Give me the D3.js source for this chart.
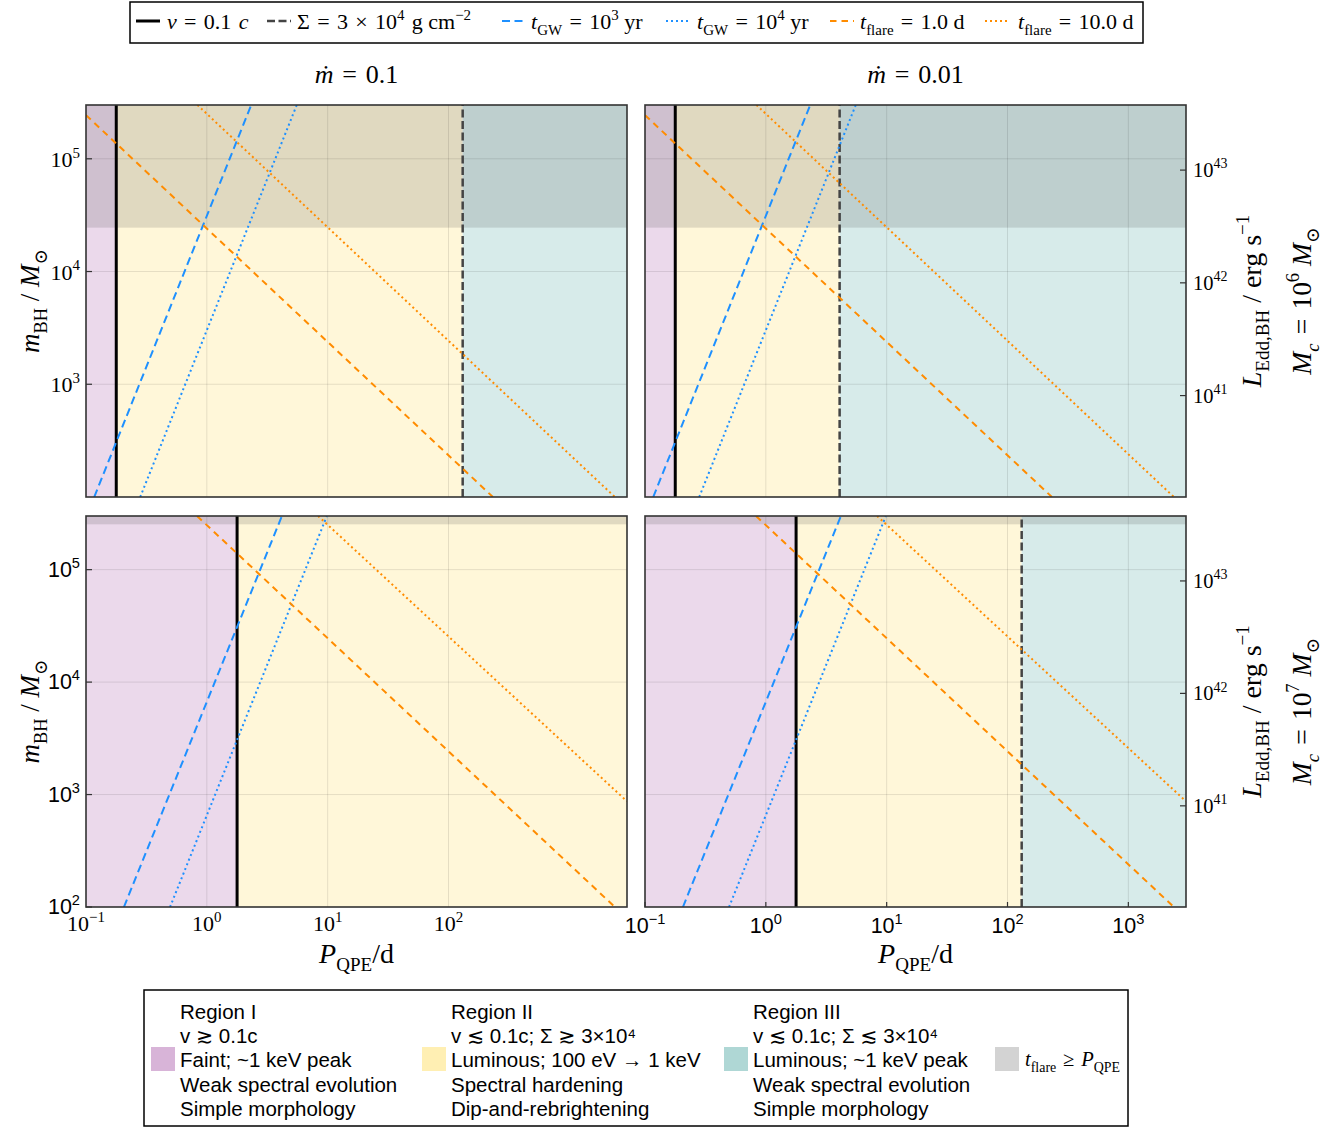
<!DOCTYPE html>
<html>
<head>
<meta charset="utf-8">
<script src="https://cdn.jsdelivr.net/npm/d3@7"></script>
<style>
  body { margin: 0; background: #fff; }
  svg { display: block; }
  text { white-space: pre; }
</style>
</head>
<body>
<svg id="fig" width="1343" height="1127"></svg>
<script>
// ---------------- data ----------------
const periodDomain = [0.1, 3000];          // P_QPE (days)
const massDomain = [100, 3e5];             // m_BH (solar masses)
const mdotLabels = ["0.1", "0.01"];        // columns
const mcExponents = ["6", "7"];            // rows: M_c = 10^n M_sun
// [row][col]
const pVelocity = [[0.178, 0.178], [1.78, 1.78]];   // v = 0.1 c boundary (d)
const pSigma = [[131, 4.08], [null, 131]];          // Sigma = 3e4 g cm^-2 boundary (d)
const mFlareLimit = [2.45e4, 2.53e5];               // t_flare >= P_QPE above this mass, per row
// power laws in log-log space, two [P, m] anchors each, per row
const tgw1e3 = [[[0.117, 100], [2.33, 3e5]], [[0.206, 100], [4.18, 3e5]]];
const tgw1e4 = [[[0.281, 100], [5.55, 3e5]], [[0.496, 100], [9.85, 3e5]]];
const tflare1 = [[[0.1, 2.44e5], [233, 100]], [[0.83, 3e5], [2382, 100]]];
const tflare10 = [[[0.836, 3e5], [2382, 100]], [[8.34, 3e5], [3000, 870]]];
const eddPerMsun = 1.26e38;                // L_Edd per solar mass (erg/s)
const massTicks = [1e2, 1e3, 1e4, 1e5];
const periodTicks = [0.1, 1, 10, 100, 1000];
const lumTicks = [1e41, 1e42, 1e43];
const gridPeriods = [[1, 10, 100], [1, 10, 100, 1000]];   // per column
const gridMasses = [1e3, 1e4, 1e5];

const legendRegions = [
  ["Region I", "v \u2273 0.1c", "Faint; ~1 keV peak", "Weak spectral evolution", "Simple morphology"],
  ["Region II", "v \u2272 0.1c; \u03a3 \u2273 3\u00d710\u2074", "Luminous; 100 eV \u2192 1 keV", "Spectral hardening", "Dip-and-rebrightening"],
  ["Region III", "v \u2272 0.1c; \u03a3 \u2272 3\u00d710\u2074", "Luminous; ~1 keV peak", "Weak spectral evolution", "Simple morphology"]
];

// ---------------- style ----------------
const colRegion = ["#ebd9eb", "#fff7d9", "#d7ebea"];
const colSwatch = ["#d8b4d8", "#ffefb3", "#afd7d5", "#d3d3d3"];
const colOverlay = "rgba(60,60,60,0.16)";
const SERIF = "'Liberation Serif', 'DejaVu Serif', serif";
const SANS = "'Liberation Sans', 'DejaVu Sans', sans-serif";
const blue = "#1e90ff", orange = "#ff8c00";
const EQ = "\u2004=\u2004";
const styles = {
  vel:   {stroke: "#000", w: 3, dash: null},
  sigma: {stroke: "#444", w: 2.5, dash: "8,3.5"},
  gw3:   {stroke: blue, w: 2, dash: "8,4.5"},
  gw4:   {stroke: blue, w: 2, dash: "2,3"},
  fl1:   {stroke: orange, w: 2, dash: "6.5,5"},
  fl10:  {stroke: orange, w: 2, dash: "2,3"}
};

const colX = [[86, 627], [645, 1186]];
const rowY = [[105, 497], [516, 907]];

const svg = d3.select("#fig");

// rich text with italic / sub / superscript runs
function rich(parent, x, y, parts, size, family, anchor) {
  const t = parent.append("text").attr("x", x).attr("y", y)
    .attr("font-family", family).attr("font-size", size)
    .attr("text-anchor", anchor || "start").attr("fill", "#000");
  let shift = 0;
  parts.forEach(p => {
    const target = p.sup ? -0.42 * size : p.sub ? 0.28 * size : 0;
    const s = t.append("tspan").text(p.t).attr("dy", target - shift);
    shift = target;
    if (p.sup || p.sub) s.attr("font-size", size * (p.scale || 0.68));
    if (p.it) s.attr("font-style", "italic");
    if (p.dx) s.attr("dx", p.dx);
  });
  return t;
}
const pow10 = (e) => [{t: "10"}, {t: e, sup: true}];
const expOf = (v) => String(Math.round(Math.log10(v))).replace("-", "\u2212");

// ---------------- panels ----------------
[0, 1].forEach(row => {
  [0, 1].forEach(col => {
    const [x0, x1] = colX[col], [y0, y1] = rowY[row];
    const x = d3.scaleLog().domain(periodDomain).range([x0, x1]);
    const y = d3.scaleLog().domain(massDomain).range([y1, y0]);
    const id = `clip-${row}-${col}`;
    svg.append("clipPath").attr("id", id).append("rect")
      .attr("x", x0).attr("y", y0).attr("width", x1 - x0).attr("height", y1 - y0);
    const g = svg.append("g").attr("clip-path", `url(#${id})`);

    const pv = pVelocity[row][col];
    const ps = pSigma[row][col] || periodDomain[1];
    const bounds = [periodDomain[0], pv, ps, periodDomain[1]];
    // regions I / II / III
    [0, 1, 2].forEach(k => {
      if (bounds[k + 1] <= bounds[k]) return;
      g.append("rect").attr("x", x(bounds[k])).attr("y", y0)
        .attr("width", x(bounds[k + 1]) - x(bounds[k])).attr("height", y1 - y0)
        .attr("fill", colRegion[k]);
    });
    // t_flare >= P_QPE
    g.append("rect").attr("x", x0).attr("y", y(massDomain[1]))
      .attr("width", x1 - x0).attr("height", y(mFlareLimit[row]) - y(massDomain[1]))
      .attr("fill", colOverlay);

    // grid
    g.selectAll(null).data(gridPeriods[col]).enter().append("line")
      .attr("x1", d => x(d)).attr("x2", d => x(d)).attr("y1", y0).attr("y2", y1)
      .attr("stroke", "rgba(0,0,0,0.1)").attr("stroke-width", 1);
    g.selectAll(null).data(gridMasses).enter().append("line")
      .attr("y1", d => y(d)).attr("y2", d => y(d)).attr("x1", x0).attr("x2", x1)
      .attr("stroke", "rgba(0,0,0,0.1)").attr("stroke-width", 1);

    const line = d3.line().x(d => x(d[0])).y(d => y(d[1]));
    const draw = (pts, st) => g.append("path").attr("d", line(pts))
      .attr("fill", "none").attr("stroke", st.stroke).attr("stroke-width", st.w)
      .attr("stroke-dasharray", st.dash);

    draw([[pv, massDomain[0]], [pv, massDomain[1]]], styles.vel);
    if (pSigma[row][col]) draw([[ps, massDomain[0]], [ps, massDomain[1]]], styles.sigma);
    draw(tgw1e3[row], styles.gw3);
    draw(tgw1e4[row], styles.gw4);
    draw(tflare1[row], styles.fl1);
    draw(tflare10[row], styles.fl10);

    // frame
    svg.append("rect").attr("x", x0).attr("y", y0).attr("width", x1 - x0).attr("height", y1 - y0)
      .attr("fill", "none").attr("stroke", "#333").attr("stroke-width", 1.6);

    const ax = svg.append("g");
    // left mass ticks and labels
    if (col === 0) {
      const ticks = row === 0 ? massTicks.slice(1) : massTicks;
      ticks.forEach(v => {
        ax.append("line").attr("x1", x0).attr("x2", x0 + 6).attr("y1", y(v)).attr("y2", y(v))
          .attr("stroke", "#333").attr("stroke-width", 1.2);
        if (row === 0) rich(ax, 80, y(v) + 8, pow10(expOf(v)), 22, SERIF, "end");
        else rich(ax, 80, y(v) + 7, pow10(expOf(v)), 21.5, SANS, "end");
      });
      rich(ax, 0, 0, [{t: "m", it: true}, {t: "BH", sub: true}, {t: "\u2005/\u2005"}, {t: "M", it: true}, {t: "\u2299", sub: true}], 27, SERIF, "middle")
        .attr("transform", `translate(39,${(y0 + y1) / 2}) rotate(-90)`);
    }
    // right luminosity axis
    if (col === 1) {
      const yl = d3.scaleLog().domain(massDomain.map(m => m * eddPerMsun)).range([y1, y0]);
      lumTicks.forEach(v => {
        ax.append("line").attr("x1", x1 - 6).attr("x2", x1).attr("y1", yl(v)).attr("y2", yl(v))
          .attr("stroke", "#333").attr("stroke-width", 1.2);
        rich(ax, 1193, yl(v) + 7, pow10(expOf(v)), 20.5, SERIF, "start");
      });
      rich(ax, 0, 0, [{t: "L", it: true}, {t: "Edd,BH", sub: true}, {t: " / erg s"}, {t: "\u22121", sup: true}], 28, SERIF, "middle")
        .attr("transform", `translate(1261,${(y0 + y1) / 2}) rotate(-90)`);
      rich(ax, 0, 0, [{t: "M", it: true}, {t: "c", sub: true, it: true}, {t: EQ + "10"}, {t: mcExponents[row], sup: true}, {t: " "}, {t: "M", it: true}, {t: "\u2299", sub: true}], 27.5, SERIF, "middle")
        .attr("transform", `translate(1311,${(y0 + y1) / 2}) rotate(-90)`);
    }
    // bottom period axis
    if (row === 1) {
      const ticks = col === 0 ? periodTicks.slice(0, 4) : periodTicks;
      ticks.forEach(v => {
        if (col === 1) {
          ax.append("line").attr("x1", x(v)).attr("x2", x(v)).attr("y1", y1 - 5).attr("y2", y1)
            .attr("stroke", "#333").attr("stroke-width", 1.2);
          rich(ax, x(v), 933, pow10(expOf(v)), 21.5, SANS, "middle");
        } else {
          rich(ax, x(v), 931, pow10(expOf(v)), 22, SERIF, "middle");
        }
      });
      rich(ax, (x0 + x1) / 2, 963, [{t: "P", it: true}, {t: "QPE", sub: true}, {t: "/d"}], 28, SERIF, "middle");
    }
    // column titles
    if (row === 0) {
      rich(ax, (x0 + x1) / 2, 83, [{t: "\u1e41", it: true}, {t: EQ + mdotLabels[col]}], 26, SERIF, "middle");
    }
  });
});

// ---------------- top legend ----------------
const lg = svg.append("g");
lg.append("rect").attr("x", 130).attr("y", 2).attr("width", 1013).attr("height", 41)
  .attr("fill", "#fff").attr("stroke", "#000").attr("stroke-width", 1.5);
const legendItems = [
  {st: styles.vel, x: 136, tx: 167, parts: [{t: "v", it: true}, {t: EQ + "0.1\u2004"}, {t: "c", it: true}]},
  {st: styles.sigma, x: 267, tx: 297, parts: [{t: "\u03a3" + EQ + "3\u2004\u00d7\u200410"}, {t: "4", sup: true}, {t: "\u2004g\u2005cm"}, {t: "\u22122", sup: true}]},
  {st: styles.gw3, x: 502, tx: 531, parts: [{t: "t", it: true}, {t: "GW", sub: true}, {t: EQ + "10"}, {t: "3", sup: true}, {t: "\u2005yr"}]},
  {st: styles.gw4, x: 666, tx: 697, parts: [{t: "t", it: true}, {t: "GW", sub: true}, {t: EQ + "10"}, {t: "4", sup: true}, {t: "\u2005yr"}]},
  {st: styles.fl1, x: 830, tx: 860, parts: [{t: "t", it: true}, {t: "flare", sub: true}, {t: EQ + "1.0\u2005d"}]},
  {st: styles.fl10, x: 985, tx: 1018, parts: [{t: "t", it: true}, {t: "flare", sub: true}, {t: EQ + "10.0\u2005d"}]}
];
legendItems.forEach(it => {
  lg.append("line").attr("x1", it.x).attr("x2", it.x + 24).attr("y1", 21).attr("y2", 21)
    .attr("stroke", it.st.stroke).attr("stroke-width", it.st.w).attr("stroke-dasharray", it.st.dash);
  rich(lg, it.tx, 29, it.parts, 22, SERIF, "start");
});

// ---------------- bottom legend ----------------
const bl = svg.append("g");
bl.append("rect").attr("x", 144).attr("y", 990).attr("width", 984).attr("height", 136)
  .attr("fill", "#fff").attr("stroke", "#000").attr("stroke-width", 1.5);
const colTextX = [180, 451, 753];
const swatchX = [151, 422, 724, 995];
legendRegions.forEach((lines, k) => {
  lines.forEach((s, i) => {
    bl.append("text").attr("x", colTextX[k]).attr("y", 1019 + i * 24.2)
      .attr("font-family", SANS).attr("font-size", 20.5).text(s);
  });
});
swatchX.forEach((sx, k) => {
  bl.append("rect").attr("x", sx).attr("y", 1047).attr("width", 24).attr("height", 24)
    .attr("fill", colSwatch[k]);
});
rich(bl, 1025, 1066, [{t: "t", it: true}, {t: "flare", sub: true}, {t: "\u2004\u2265\u2004"}, {t: "P", it: true}, {t: "QPE", sub: true}], 20.5, SERIF, "start");
</script>
</body>
</html>
